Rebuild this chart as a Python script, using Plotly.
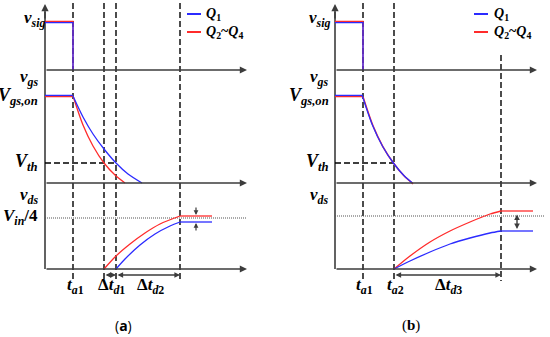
import plotly.graph_objects as go

# ---------------- data (in figure units) ----------------
# panel (a)
a_axis_x = 45
a_sig_x = [45, 73, 73]
a_sig_y = [22, 22, 70]
a_gs_on_x = [45, 73]
a_gs_on_y = [96, 96]
a_gs_red_x = [73, 83, 93, 104, 115, 125]
a_gs_red_y = [96, 125, 146, 163, 175, 183]
a_gs_blue_x = [73, 83, 93, 104, 116, 128, 142]
a_gs_blue_y = [96, 117, 134, 149, 163, 174, 183]
a_ds_red_x = [104, 116, 130, 145, 160, 180, 212]
a_ds_red_y = [269, 256, 244, 233, 224, 216, 216]
a_ds_blue_x = [116, 125, 140, 155, 170, 180, 212]
a_ds_blue_y = [269, 259, 245, 234, 226, 222, 222]
a_dash_x = [73, 104, 116, 180]
a_vth_y = 163
a_vin4_y = 218

# panel (b)
b_axis_x = 335
b_sig_x = [335, 363, 363]
b_sig_y = [22, 22, 70]
b_gs_on_x = [335, 363]
b_gs_on_y = [96, 96]
b_gs_x = [363, 373, 383, 394, 404, 413]
b_gs_y = [96, 125, 146, 163, 175, 183]
b_ds_red_x = [394, 410, 430, 450, 470, 490, 501, 533]
b_ds_red_y = [269, 256, 242, 231, 222, 214, 211, 211]
b_ds_blue_x = [394, 410, 430, 450, 470, 490, 501, 533]
b_ds_blue_y = [269, 261, 252, 244, 238, 233, 231, 231]
b_dash_x = [363, 394, 501]
b_dash_top = [3, 3, 55]
b_vth_y = 163
b_ref_y = 216

BLUE = "#2b2bff"
RED = "#ff2b2b"
AX = "#3c3c3c"
FONT = "Liberation Serif, Times New Roman, serif"

fig = go.Figure()


def line(x, y, color, width=1.3, dash=None):
    fig.add_trace(go.Scatter(x=x, y=y, mode="lines", hoverinfo="skip",
                             line=dict(color=color, width=width, dash=dash,
                                       shape="spline" if len(x) > 3 else "linear",
                                       smoothing=0.8)))


def arrow(x0, y0, x1, y1, both=False, width=1.5, color=AX, head=2, size=1.0):
    fig.add_annotation(x=x1, y=y1, ax=x0, ay=y0, xref="x", yref="y", axref="x", ayref="y",
                       text="", showarrow=True, arrowhead=head, startarrowhead=head,
                       arrowsize=size, startarrowsize=size,
                       arrowside="end+start" if both else "end",
                       arrowwidth=width, arrowcolor=color)


def label(x, y, txt, anchor="right", size=17):
    fig.add_annotation(x=x, y=y, xref="x", yref="y", text=txt, showarrow=False,
                       xanchor=anchor, yanchor="middle",
                       font=dict(family=FONT, size=size, color="black"))


for (ax0, dash_x, dash_top, xend) in [(a_axis_x, a_dash_x, [3] * 4, 247),
                                      (b_axis_x, b_dash_x, b_dash_top, 537)]:
    # dashed verticals
    for dx, dt in zip(dash_x, dash_top):
        line([dx, dx], [dt, 281], "black", 1.4, "6px,3px")
    # axes
    fig.add_trace(go.Scatter(x=[ax0, ax0], y=[269, 12], mode="lines", hoverinfo="skip",
                             line=dict(color=AX, width=1.6)))
    arrow(ax0, 20, ax0, 4, width=1.6, size=0.9)
    for yy in [70, 183, 269]:
        arrow(ax0, yy, xend, yy, width=1.6, size=0.9)

# Vth dashed horizontals
line([a_axis_x, a_dash_x[2]], [a_vth_y, a_vth_y], "black", 1.4, "6px,3px")
line([b_axis_x, b_dash_x[1]], [b_vth_y, b_vth_y], "black", 1.4, "6px,3px")
# dotted reference lines
line([a_axis_x, 247], [a_vin4_y, a_vin4_y], "#555555", 1.2, "1px,1px")
line([b_axis_x, 545], [b_ref_y, b_ref_y], "#555555", 1.2, "1px,1px")

# panel (a) signals
line(a_sig_x, [v - 0.6 for v in a_sig_y[:2]] + [a_sig_y[2]], RED)
line(a_sig_x, [v + 0.6 for v in a_sig_y[:2]] + [a_sig_y[2]], BLUE)
line(a_gs_on_x, [v + 0.6 for v in a_gs_on_y], RED)
line(a_gs_on_x, [v - 0.6 for v in a_gs_on_y], BLUE)
line(a_gs_red_x, a_gs_red_y, RED)
line(a_gs_blue_x, a_gs_blue_y, BLUE)
line(a_ds_red_x[:-1], a_ds_red_y[:-1], RED)
line(a_ds_red_x[-2:], a_ds_red_y[-2:], RED)
line(a_ds_blue_x[:-1], a_ds_blue_y[:-1], BLUE)
line(a_ds_blue_x[-2:], a_ds_blue_y[-2:], BLUE)

# panel (b) signals
line(b_sig_x, [v - 0.6 for v in b_sig_y[:2]] + [b_sig_y[2]], RED)
line(b_sig_x, [v + 0.6 for v in b_sig_y[:2]] + [b_sig_y[2]], BLUE)
line(b_gs_on_x, [v + 0.6 for v in b_gs_on_y], RED)
line(b_gs_on_x, [v - 0.6 for v in b_gs_on_y], BLUE)
line(b_gs_x, [v + 0.8 for v in b_gs_y], RED, 1.5)
line([x - 0.6 for x in b_gs_x], b_gs_y, BLUE, 1.3)
line(b_ds_red_x[:-1], b_ds_red_y[:-1], RED)
line(b_ds_red_x[-2:], b_ds_red_y[-2:], RED)
line(b_ds_blue_x[:-1], b_ds_blue_y[:-1], BLUE)
line(b_ds_blue_x[-2:], b_ds_blue_y[-2:], BLUE)

# legends
for lx, tx in [(187, 204), (474, 492)]:
    line([lx, lx + 14], [14, 14], BLUE, 2)
    line([lx, lx + 14], [32, 32], RED, 2)
    label(tx, 14, "<b><i>Q</i><sub>1</sub></b>", "left", 14)
    label(tx, 32, "<b><i>Q</i><sub>2</sub>~<i>Q</i><sub>4</sub></b>", "left", 14)

# interval arrows
arrow(a_dash_x[1], 275, a_dash_x[2], 275, both=True, width=1.4, size=0.8)
arrow(a_dash_x[2], 275, a_dash_x[3], 275, both=True, width=1.4, size=0.8)
arrow(b_dash_x[1], 275, b_dash_x[2], 275, both=True, width=1.4, size=0.8)
# offset arrows
arrow(196, 206, 196, 215, width=1.2, size=0.8)
arrow(196, 232, 196, 223, width=1.2, size=0.8)
arrow(517, 213, 517, 229, both=True, width=1.4, size=0.8)

# axis labels, panel (a)
label(47, 19, "<b><i>v</i><sub><i>sig</i></sub></b>")
label(40, 78, "<b><i>v</i><sub><i>gs</i></sub></b>")
label(40, 96, "<b><i>V</i><sub><i>gs,on</i></sub></b>", size=18)
label(40, 162, "<b><i>V</i><sub><i>th</i></sub></b>", size=18)
label(40, 196, "<b><i>v</i><sub><i>ds</i></sub></b>")
label(40, 217, "<b><i>V</i><sub><i>in</i></sub>/4</b>", size=17)
label(75, 286, "<b><i>t</i><sub><i>a</i>1</sub></b>", "center")
label(111, 286, "<b>Δ<i>t</i><sub><i>d</i>1</sub></b>", "center")
label(150, 286, "<b>Δ<i>t</i><sub><i>d</i>2</sub></b>", "center")

# axis labels, panel (b)
label(332, 19, "<b><i>v</i><sub><i>sig</i></sub></b>")
label(330, 78, "<b><i>v</i><sub><i>gs</i></sub></b>")
label(331, 96, "<b><i>V</i><sub><i>gs,on</i></sub></b>", size=18)
label(331, 162, "<b><i>V</i><sub><i>th</i></sub></b>", size=18)
label(330, 196, "<b><i>v</i><sub><i>ds</i></sub></b>")
label(364, 286, "<b><i>t</i><sub><i>a</i>1</sub></b>", "center")
label(395, 286, "<b><i>t</i><sub><i>a</i>2</sub></b>", "center")
label(448, 286, "<b>Δ<i>t</i><sub><i>d</i>3</sub></b>", "center")

# panel captions
fig.add_annotation(x=123, y=325, xref="x", yref="y", text="(<b>a</b>)", showarrow=False,
                   font=dict(family="Open Sans", size=14, color="black"))
fig.add_annotation(x=411, y=325, xref="x", yref="y", text="(<b>b</b>)", showarrow=False,
                   font=dict(family=FONT, size=15, color="black"))

fig.update_layout(width=550, height=337, margin=dict(l=0, r=0, t=0, b=0),
                  paper_bgcolor="white", plot_bgcolor="white", showlegend=False,
                  xaxis=dict(range=[0, 550], visible=False, fixedrange=True),
                  yaxis=dict(range=[337, 0], visible=False, fixedrange=True))
fig.write_html("out.html", config={"displayModeBar": False},
               post_script="document.body.style.margin='0';document.body.style.overflow='hidden';")
